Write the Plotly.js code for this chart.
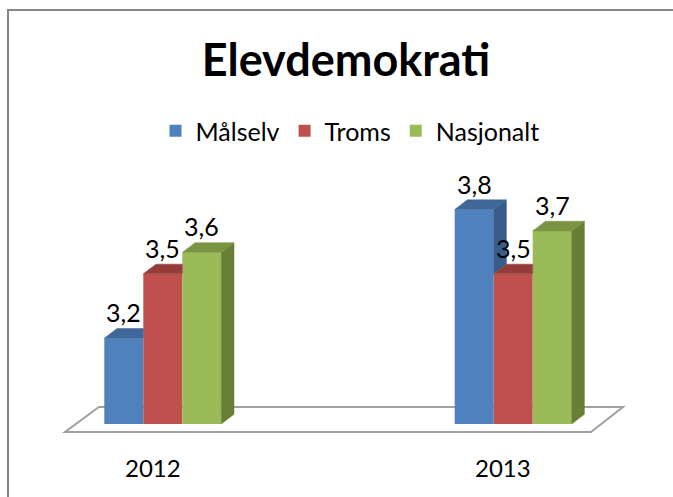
<!DOCTYPE html>
<html>
<head>
<meta charset="utf-8">
<script src="https://cdn.plot.ly/plotly-3.0.1.min.js"></script>
<style>
  html, body { margin: 0; padding: 0; background: #ffffff; }
  #chart { width: 673px; height: 497px; position: absolute; left: 0; top: 0; }
  #frame { position: absolute; left: 7px; top: 9px; width: 700px; height: 520px;
           border-left: 2px solid #878787; border-top: 2px solid #878787; pointer-events: none; }
</style>
</head>
<body>
<div id="chart"></div>
<div id="frame"></div>
<script>
// ---- data ----
const chartTitle = "Elevdemokrati";
const categories = ["2012", "2013"];
const seriesNames = ["Målselv", "Troms", "Nasjonalt"];
const malselv = [3.2, 3.8];
const troms = [3.5, 3.5];
const nasjonalt = [3.6, 3.7];

// ---- styles ----
const frontColors = ["#4F81BD", "#C0504D", "#9BBB59"];
const topColors   = ["#3F6797", "#943C3A", "#7A9443"];
const sideColors  = ["#385D8A", "#863634", "#687E37"];
const FONT = "Lato, 'Open Sans', sans-serif";

// ---- geometry (layout) ----
const W = 673, H = 497;
const ML = 40, MR = 40, MT = 150, MB = 47;
const SX = 350.4;          // px per category step
const SY = 214.5;          // px per value unit
const G0PX = 162.8;        // px of first group centre
const BASE = 2.8;          // value of the bar floor
const BASEPX = 424;
const PB = H - MB;
const PH = H - MT - MB;
const xr0 = -(G0PX - ML) / SX;
const xRange = [xr0, xr0 + (W - ML - MR) / SX];
const yr0 = BASE - (PB - BASEPX) / SY;
const yRange = [yr0, yr0 + PH / SY];
const BW = 39 / SX;               // bar width in x units
const DDX = 12.7 / SX, DDY = 9.7 / SY;   // 3-D depth in data units
const pxX = px => xRange[0] + (px - ML) / SX;
const pxY = py => yRange[0] + (PB - py) / SY;

const series = [malselv, troms, nasjonalt];
const xs = categories.map((c, i) => i);

const traces = series.map((vals, s) => ({
  type: "bar",
  name: seriesNames[s],
  x: xs,
  y: vals.map(v => v - BASE),
  base: vals.map(() => BASE),
  width: BW,
  offset: (s - 1.5) * BW,
  marker: { color: frontColors[s], line: { width: 0 } },
  hoverinfo: "skip"
}));

const shapes = [];
// floor
const fl = [[65, 432], [591, 432], [623, 407], [99, 407]];
shapes.push({
  type: "path", xref: "x", yref: "y", layer: "below",
  path: "M " + fl.map(p => pxX(p[0]) + "," + pxY(p[1])).join(" L ") + " Z",
  fillcolor: "#ffffff", line: { color: "#A0A0A0", width: 2 }
});

const P = pts => "M " + pts.map(p => p[0] + "," + p[1]).join(" L ") + " Z";
const annotations = [];
xs.forEach((g, gi) => {
  series.forEach((vals, s) => {
    const v = vals[gi];
    const xl = g + (s - 1.5) * BW, xr = xl + BW;
    const next = s < series.length - 1 ? series[s + 1][gi] : null;
    // side face
    if (next === null || next < v) {
      const bot = next === null ? BASE : next;
      shapes.push({ type: "path", xref: "x", yref: "y", layer: "above",
        path: P([[xr, v], [xr + DDX, v + DDY], [xr + DDX, bot + DDY], [xr, bot]]),
        fillcolor: sideColors[s], line: { color: sideColors[s], width: 0.5 } });
    }
    // top face
    const topPts = (next !== null && next > v)
      ? [[xl, v], [xr, v], [xr, v + DDY], [xl + DDX, v + DDY]]
      : [[xl, v], [xr, v], [xr + DDX, v + DDY], [xl + DDX, v + DDY]];
    shapes.push({ type: "path", xref: "x", yref: "y", layer: "above",
      path: P(topPts), fillcolor: topColors[s], line: { color: topColors[s], width: 0.5 } });
    // value label
    annotations.push({ x: xl + BW / 2, y: v, xref: "x", yref: "y",
      text: String(v).replace(".", ","), showarrow: false,
      yanchor: "middle", yshift: 26,
      font: { family: FONT, size: 25, color: "#000000" } });
  });
  // category label
  annotations.push({ x: g, y: (PB - 467) / PH, xref: "x", yref: "paper", text: categories[gi],
    showarrow: false, yanchor: "middle", xshift: -10,
    font: { family: FONT, size: 24, color: "#000000" } });
});

const layout = {
  width: W, height: H,
  margin: { l: ML, r: MR, t: MT, b: MB, autoexpand: false },
  paper_bgcolor: "#ffffff", plot_bgcolor: "#ffffff",
  title: { text: "<b>" + chartTitle + "</b>", x: 346 / W, xanchor: "center",
           y: 1 - 60 / H, yanchor: "middle", xref: "container", yref: "container",
           font: { family: FONT, size: 45, color: "#000000" } },
  showlegend: true,
  legend: { orientation: "h", x: 350 / W, xanchor: "center", y: 1 - 131 / H, yanchor: "middle",
            xref: "container", yref: "container",
            font: { family: FONT, size: 25, color: "#000000" }, traceorder: "normal" },
  xaxis: { range: xRange, visible: false, fixedrange: true },
  yaxis: { range: yRange, visible: false, fixedrange: true },
  barmode: "overlay",
  shapes: shapes,
  annotations: annotations
};

Plotly.newPlot("chart", traces, layout, { staticPlot: true });
</script>
</body>
</html>
